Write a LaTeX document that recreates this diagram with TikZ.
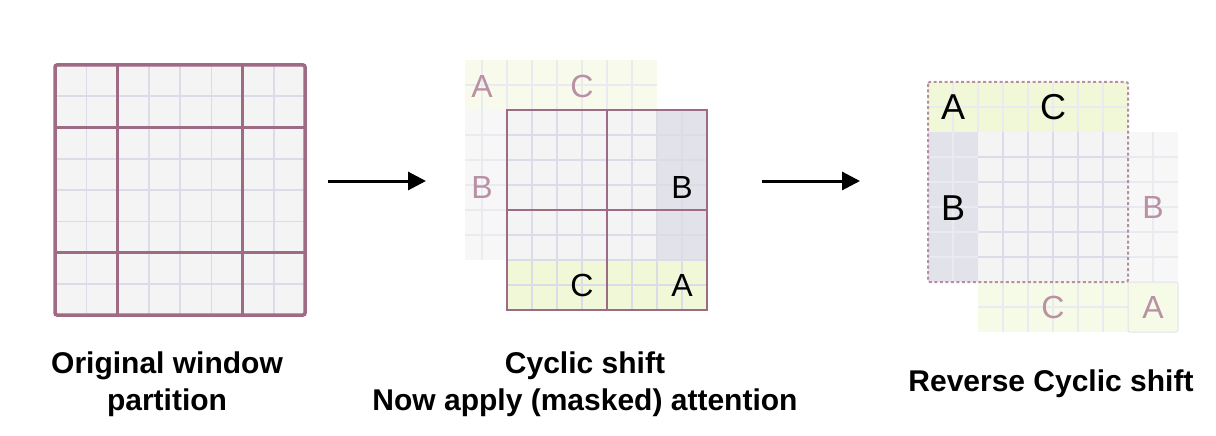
\documentclass[tikz,border=0pt]{standalone}
\usepackage{fontspec}
\setmainfont{Liberation Sans}
\usetikzlibrary{arrows.meta}
\definecolor{frame}{RGB}{158,106,132}
\definecolor{cellfill}{RGB}{244,244,245}
\definecolor{cellline}{RGB}{220,220,232}
\definecolor{winA}{RGB}{240,248,216}
\definecolor{winB}{RGB}{226,226,234}
\definecolor{ghost}{RGB}{186,144,164}
\begin{document}
\begin{tikzpicture}[x=1pt,y=-1pt,
    thin grid/.style={draw=cellline,line width=1.5pt},
    faint grid/.style={draw=cellline!60,line width=1.2pt},
    window/.style={draw=frame,line width=3.5pt},
    letter/.style={font=\fontsize{32}{32}\selectfont,inner sep=0pt},
    big letter/.style={font=\fontsize{36}{36}\selectfont,inner sep=0pt},
    ghost letter/.style={letter,text=ghost},
    caption/.style={font=\fontsize{30}{37}\selectfont\bfseries,align=center},
    shift arrow/.style={-{Triangle[length=18pt,width=18pt]},line width=3pt}]

\useasboundingbox (0,0) rectangle (1216,436);

% original window partition
\fill[cellfill] (55,65) rectangle (305,315);
\foreach \i in {1,...,7} {
    \draw[thin grid] ({55+31.25*\i},65) -- ({55+31.25*\i},315);
    \draw[thin grid] (55,{65+31.25*\i}) -- (305,{65+31.25*\i});
}
\foreach \i in {2,6} {
    \draw[window] ({55+31.25*\i},65) -- ({55+31.25*\i},315);
    \draw[window] (55,{65+31.25*\i}) -- (305,{65+31.25*\i});
}
\draw[window,rounded corners=2pt] (55,65) rectangle (305,315);
\node[caption] (orig) at (167,384) {Original window\\partition};

% cyclic shift
\fill[winA!50] (465,60) rectangle (657,110);
\fill[cellfill!70] (465,110) rectangle (507,260);
\foreach \i in {0,...,6} {
    \draw[faint grid] ({482+25*\i},60) -- ({482+25*\i},110);
}
\draw[faint grid] (465,85) -- (657,85);
\foreach \i in {1,...,5} {
    \draw[faint grid] (465,{110+25*\i}) -- (507,{110+25*\i});
}
\draw[faint grid] (482,110) -- (482,260);
\node[ghost letter] (gA1) at (482,86) {A};
\node[ghost letter] (gC1) at (582,86) {C};
\node[ghost letter] (gB1) at (482,187) {B};

\fill[cellfill] (507,110) rectangle (707,310);
\fill[winB] (657,110) rectangle (707,260);
\fill[winA] (507,260) rectangle (707,310);
\foreach \i in {1,...,7} {
    \draw[thin grid] ({507+25*\i},110) -- ({507+25*\i},310);
    \draw[thin grid] (507,{110+25*\i}) -- (707,{110+25*\i});
}
\draw[window,line width=2.5pt] (607,110) -- (607,310);
\draw[window,line width=2.5pt] (507,210) -- (707,210);
\draw[window,line width=2.5pt] (507,110) rectangle (707,310);
\node[letter] (B1) at (682,187) {B};
\node[letter] (C1) at (582,285) {C};
\node[letter] (A1) at (682,285) {A};
\node[caption] (shift) at (585,384) {Cyclic shift\\Now apply (masked) attention};

% reverse cyclic shift
\fill[cellfill!70] (1128,132) rectangle (1178,282);
\fill[winA!60] (978,282) rectangle (1128,332);
\foreach \i in {1,...,5} {
    \draw[faint grid] (1128,{132+25*\i}) -- (1178,{132+25*\i});
}
\draw[faint grid] (1153,132) -- (1153,282);
\foreach \i in {1,...,5} {
    \draw[faint grid] ({978+25*\i},282) -- ({978+25*\i},332);
}
\draw[faint grid] (978,307) -- (1128,307);
\filldraw[fill=winA!60,draw=cellline!80,line width=1pt,rounded corners=2pt] (1128,282) rectangle (1178,332);
\node[ghost letter] (gB2) at (1153,207) {B};
\node[ghost letter] (gC2) at (1053,307) {C};
\node[ghost letter] (gA2) at (1153,307) {A};

\fill[cellfill] (928,82) rectangle (1128,282);
\fill[winA] (928,82) rectangle (1128,132);
\fill[winB] (928,132) rectangle (978,282);
\foreach \i in {1,...,7} {
    \draw[faint grid] ({928+25*\i},82) -- ({928+25*\i},132);
}
\foreach \i in {1,...,5} {
    \draw[faint grid] (928,{132+25*\i}) -- (978,{132+25*\i});
}
\draw[faint grid] (928,107) -- (1128,107);
\draw[faint grid] (953,132) -- (953,282);
\foreach \i in {3,...,7} {
    \draw[thin grid] ({928+25*\i},132) -- ({928+25*\i},282);
    \draw[thin grid] (978,{82+25*\i}) -- (1128,{82+25*\i});
}
\draw[frame!75,line width=2pt,dash pattern=on 3pt off 2.5pt,rounded corners=2pt] (928,82) rectangle (1128,282);
\node[big letter] (A2) at (953,107) {A};
\node[big letter] (C2) at (1053,107) {C};
\node[big letter] (B2) at (953,208) {B};
\node[caption] (rev) at (1051,384) {Reverse Cyclic shift};

\coordinate (arr1s) at (328,181);
\coordinate (arr1e) at (426,181);
\coordinate (arr2s) at (762,181);
\coordinate (arr2e) at (860,181);
\draw[shift arrow] (arr1s) -- (arr1e);
\draw[shift arrow] (arr2s) -- (arr2e);

\end{tikzpicture}
\end{document}
